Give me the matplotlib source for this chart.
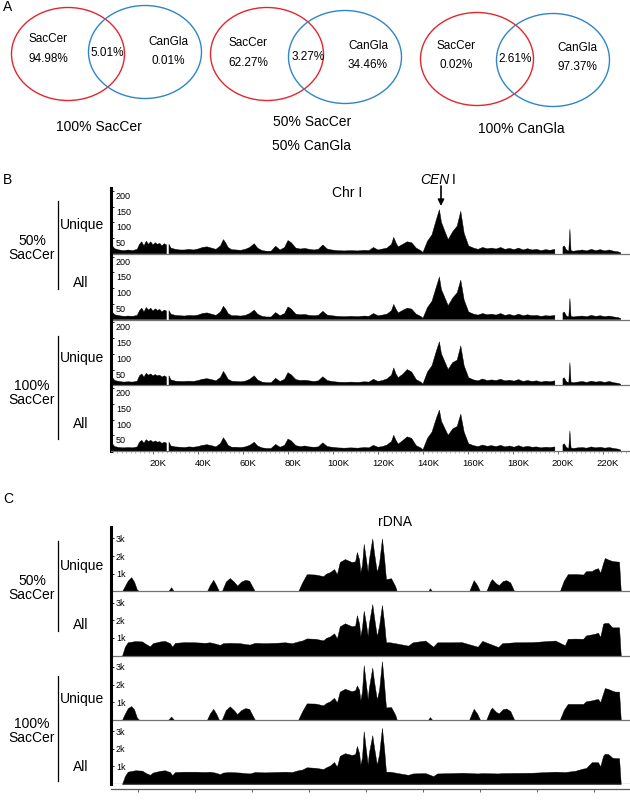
import numpy as np
import matplotlib
matplotlib.use('Agg')
import matplotlib.pyplot as plt
from matplotlib.patches import Ellipse
from matplotlib.transforms import ScaledTranslation
from matplotlib.ticker import MultipleLocator

plt.rcParams['font.family'] = ['Liberation Sans', 'DejaVu Sans']

# ---------------- Panel A : Venn diagrams ----------------
venn_titles = ['100% SacCer', '50% SacCer\n50% CanGla', '100% CanGla']
sac_only = ['94.98%', '62.27%', '0.02%']
overlap = ['5.01%', '3.27%', '2.61%']
can_only = ['0.01%', '34.46%', '97.37%']

# ---------------- Panel B : Chr I coverage (kb) ----------------
chr_pos = [1.4, 3, 5, 7, 9, 11, 13, 14, 15, 16,
           17, 18, 19, 20, 21, 22, 23, 24, 25, 26,
           26.6, 27.1, 28, 30, 32, 34, 36, 38, 40, 42,
           44, 46, 48, 50, 51.3, 52.3, 53.4, 55, 57, 59,
           61, 63, 65, 66.5, 68.5, 70.5, 72.5, 74.5, 76.5, 78.5,
           80, 81.5, 83.5, 85.5, 87.5, 89.5, 91.5, 93.5, 95.5, 97.5,
           99.5, 102, 105, 108, 111, 114, 116, 118, 120, 122,
           124, 126, 127, 128, 129, 131, 133, 135, 137, 139,
           140, 142, 144, 146, 147.3, 148.2, 149.7, 151.2, 153.2, 155.2,
           156.8, 158.3, 160.3, 162.5, 164.5, 166.5, 168.5, 170.5, 172.5, 174.5,
           176.5, 178.5, 180.5, 182.5, 184.5, 186.5, 188.5, 190.5, 192.5, 194.5,
           196.5, 198.6, 200.2, 202.2, 202.8, 203.8, 204.8, 205.3, 205.8, 206.8,
           208.8, 210.8, 212.8, 214.8, 216.8, 218.8, 220.8, 222.8, 224.8, 226.8,
           227.9]
nan = float('nan')
b_unique_50 = [30, 16, 12, 10, 12, 10, 14, 30, 38, 25,
               40, 30, 38, 28, 35, 30, 33, 25, 32, 28,
               nan, 30, 18, 14, 12, 12, 14, 12, 15, 20,
               22, 18, 14, 25, 45, 35, 20, 13, 12, 11,
               14, 20, 32, 18, 10, 8, 8, 24, 12, 20,
               42, 35, 18, 15, 17, 14, 12, 14, 28, 15,
               12, 10, 9, 10, 9, 11, 10, 20, 12, 15,
               18, 30, 52, 35, 22, 30, 38, 35, 18, 10,
               4, 40, 60, 110, 140, 100, 72, 45, 70, 88,
               135, 65, 25, 18, 14, 20, 16, 18, 15, 20,
               14, 17, 13, 18, 12, 16, 12, 14, 10, 13,
               11, 14, nan, 22, 25, 12, 8, 78, 10, 8,
               10, 12, 9, 14, 10, 13, 9, 12, 8, 6,
               3]
b_all_50 = [28, 15, 12, 10, 11, 10, 13, 28, 36, 24,
            38, 30, 36, 27, 34, 29, 32, 24, 30, 27,
            nan, 28, 17, 13, 12, 11, 13, 12, 14, 19,
            21, 17, 13, 24, 42, 33, 19, 12, 12, 11,
            13, 19, 30, 17, 10, 8, 8, 22, 12, 19,
            40, 33, 17, 15, 16, 13, 12, 13, 26, 14,
            12, 10, 9, 10, 9, 11, 10, 19, 12, 14,
            17, 28, 48, 33, 21, 29, 36, 33, 17, 10,
            4, 38, 58, 105, 135, 95, 70, 44, 68, 85,
            125, 62, 24, 17, 14, 19, 15, 17, 14, 19,
            13, 16, 12, 17, 12, 15, 12, 13, 10, 12,
            11, 13, nan, 21, 24, 11, 8, 67, 10, 8,
            10, 11, 9, 13, 10, 12, 9, 11, 8, 6,
            3]
b_unique_100 = [30, 15, 12, 10, 11, 10, 13, 30, 36, 26,
                38, 32, 36, 30, 34, 30, 32, 26, 30, 26,
                nan, 30, 17, 13, 12, 12, 13, 12, 15, 19,
                21, 18, 14, 25, 44, 33, 19, 13, 12, 11,
                13, 19, 30, 17, 10, 8, 8, 22, 12, 19,
                40, 33, 18, 15, 16, 14, 12, 14, 27, 15,
                12, 10, 9, 10, 9, 11, 10, 19, 12, 15,
                20, 32, 55, 36, 24, 35, 50, 42, 18, 10,
                4, 42, 62, 110, 138, 100, 75, 50, 72, 80,
                125, 62, 24, 17, 14, 20, 15, 17, 15, 19,
                14, 16, 13, 18, 12, 15, 12, 14, 10, 13,
                11, 14, nan, 21, 24, 11, 8, 72, 10, 8,
                10, 12, 9, 13, 10, 12, 9, 12, 8, 6,
                3]
b_all_100 = [28, 14, 11, 10, 11, 10, 13, 28, 34, 25,
             36, 30, 34, 28, 32, 28, 30, 24, 28, 25,
             nan, 28, 16, 13, 12, 11, 13, 12, 14, 18,
             20, 17, 13, 24, 42, 32, 18, 12, 12, 11,
             13, 18, 28, 16, 10, 8, 8, 21, 12, 18,
             38, 32, 17, 14, 16, 13, 12, 13, 26, 14,
             12, 10, 9, 10, 9, 11, 10, 18, 12, 14,
             19, 30, 50, 34, 22, 33, 45, 40, 17, 10,
             4, 40, 60, 105, 130, 95, 72, 50, 70, 78,
             117, 60, 23, 17, 14, 19, 15, 17, 14, 18,
             13, 16, 12, 17, 12, 15, 12, 13, 10, 12,
             11, 13, nan, 20, 23, 11, 8, 64, 10, 8,
             10, 11, 9, 13, 10, 12, 9, 11, 8, 6,
             3]
chr_ticks = [20, 40, 60, 80, 100, 120, 140, 160, 180, 200, 220]
chr_tick_labels = ['20K', '40K', '60K', '80K', '100K', '120K', '140K',
                   '160K', '180K', '200K', '220K']
b_yticks = [50, 100, 150, 200]
b_ytick_labels = ['50', '100', '150', '200']

# ---------------- Panel C : rDNA coverage (kb) ----------------
c_pos_unique = [0.72, 0.77, 0.82, 0.88, 0.93, 0.98, 1.02, 1.53, 1.58, 1.63,
                2.21, 2.26, 2.32, 2.37, 2.42, 2.47, 2.54, 2.61, 2.68, 2.74,
                2.81, 2.88, 2.95, 3.00, 3.05, 3.81, 3.88, 3.96, 4.11, 4.25,
                4.30, 4.37, 4.44, 4.49, 4.54, 4.63, 4.75, 4.81, 4.84, 4.88,
                4.90, 4.93, 4.96, 5.00, 5.03, 5.05, 5.11, 5.14, 5.19, 5.23,
                5.28, 5.32, 5.35, 5.44, 5.51, 5.54, 6.09, 6.12, 6.16, 6.81,
                6.86, 6.89, 6.95, 7.00, 7.11, 7.18, 7.21, 7.28, 7.33, 7.40,
                7.46, 7.53, 7.60, 8.40, 8.47, 8.54, 8.67, 8.81, 8.86, 8.96,
                9.02, 9.07, 9.11, 9.16, 9.19, 9.25, 9.32, 9.37, 9.44, 9.47]
c_unique_50 = [0, 300, 600, 800, 550, 100, 0, 0, 230, 0,
               0, 350, 650, 350, 0, 0, 550, 750, 550, 320,
               550, 650, 600, 300, 0, 0, 500, 970, 950, 860,
               1000, 1090, 1260, 970, 1660, 1830, 1660, 1700, 2230, 1800,
               1090, 1500, 2690, 1800, 1090, 1800, 3000, 2200, 1100, 1600,
               3000, 1800, 690, 740, 300, 0, 0, 170, 0, 0,
               400, 630, 350, 0, 0, 550, 690, 450, 350, 580,
               630, 500, 0, 0, 600, 970, 980, 950, 1140, 1150,
               1260, 1310, 1050, 1600, 1890, 1800, 1720, 1700, 1680, 0]
c_unique_100 = [0, 350, 650, 780, 600, 120, 0, 0, 180, 0,
                0, 350, 620, 350, 0, 0, 550, 760, 550, 320,
                550, 660, 620, 300, 0, 0, 480, 930, 920, 820,
                950, 1050, 1250, 980, 1600, 1760, 1620, 1680, 1950, 1700,
                1100, 1600, 3100, 2000, 1150, 1800, 2960, 2200, 1150, 1700,
                3330, 1900, 700, 720, 300, 0, 0, 150, 0, 0,
                400, 620, 350, 0, 0, 550, 690, 450, 360, 600,
                640, 500, 0, 0, 550, 900, 900, 900, 1050, 1100,
                1150, 1180, 1000, 1500, 1800, 1750, 1650, 1600, 1600, 0]
c_pos_all = [0.72, 0.77, 0.82, 0.95, 1.07, 1.14, 1.21, 1.26, 1.39, 1.47,
             1.56, 1.60, 1.65, 1.82, 2.00, 2.18, 2.26, 2.35, 2.44, 2.49,
             2.61, 2.79, 2.88, 2.96, 3.05, 3.23, 3.40, 3.58, 3.70, 3.81,
             3.88, 3.96, 4.11, 4.25, 4.30, 4.37, 4.44, 4.49, 4.54, 4.63,
             4.75, 4.81, 4.84, 4.88, 4.90, 4.93, 4.96, 5.00, 5.03, 5.05,
             5.11, 5.14, 5.19, 5.23, 5.28, 5.32, 5.35, 5.42, 5.56, 5.74,
             5.82, 6.04, 6.18, 6.25, 6.51, 6.68, 6.96, 7.04, 7.32, 7.39,
             7.61, 7.91, 8.32, 8.49, 8.54, 8.67, 8.81, 8.86, 8.96, 9.02,
             9.07, 9.11, 9.16, 9.19, 9.25, 9.32, 9.37, 9.44, 9.47]
c_all_50 = [0, 500, 750, 820, 800, 650, 520, 700, 800, 830,
            700, 500, 720, 760, 750, 720, 750, 680, 600, 700,
            720, 700, 650, 620, 720, 700, 720, 750, 700, 800,
            850, 970, 950, 860, 1000, 1090, 1260, 970, 1660, 1830,
            1660, 1700, 2290, 1800, 1090, 1600, 2540, 1800, 1090, 1800,
            2920, 2200, 1100, 1700, 2870, 1800, 750, 750, 670, 560,
            750, 850, 500, 750, 750, 760, 500, 830, 480, 700,
            750, 760, 850, 580, 950, 960, 950, 1140, 1200, 1240,
            1300, 1050, 1800, 1850, 1850, 1600, 1600, 1600, 0]
c_all_100 = [0, 450, 700, 780, 760, 620, 520, 650, 750, 780,
             680, 500, 680, 700, 700, 680, 700, 650, 560, 650,
             680, 650, 620, 600, 680, 660, 680, 700, 680, 780,
             820, 950, 920, 850, 950, 1050, 1250, 980, 1600, 1750,
             1650, 1700, 2160, 1750, 1100, 1500, 3000, 1900, 1100, 1750,
             2770, 2100, 1100, 1700, 3190, 1900, 700, 700, 620, 520,
             600, 620, 450, 600, 620, 640, 600, 620, 600, 620,
             630, 640, 700, 680, 700, 750, 880, 900, 1240, 1240,
             1240, 1000, 1600, 1720, 1700, 1500, 1470, 1470, 0]
c_ticks = [1, 2, 3, 4, 5, 6, 7, 8, 9]
c_yticks = [1000, 2000, 3000]
c_ytick_labels = ['1k', '2k', '3k']

# ---------------- figure ----------------
W, H = 630, 804
fig = plt.figure(figsize=(W / 100, H / 100), dpi=100)


def rect(x0, y0, x1, y1):
    return [x0 / W, 1 - y1 / H, (x1 - x0) / W, (y1 - y0) / H]


ov = fig.add_axes([0, 0, 1, 1])
ov.set_xlim(0, W)
ov.set_ylim(H, 0)
ov.set_axis_off()

RED = '#e3262c'
BLUE = '#2f86c6'

# Venn layout (pixel space)
venn_red = [(68, 55), (267, 55), (477, 60)]
venn_blue = [(145, 53), (345, 58), (553, 61)]
ew, eh = 113, 93
sac_txt = [(48, 39, 59), (248, 43, 63), (456, 46, 65)]
ov_txt = [(107, 53), (308, 57), (515, 59)]
can_txt = [(168, 42, 61), (368, 46, 65), (577, 48, 67)]
title_xy = [(99, 127), (312, 134), (521, 129)]

for i in range(3):
    ov.add_patch(Ellipse(venn_red[i], ew, eh, fill=False, ec=RED, lw=1.0))
    ov.add_patch(Ellipse(venn_blue[i], ew, eh, fill=False, ec=BLUE, lw=1.0))
    x, y1, y2 = sac_txt[i]
    ov.text(x, y1, 'SacCer', ha='center', va='center', fontsize=8.5)
    ov.text(x, y2, sac_only[i], ha='center', va='center', fontsize=8.5)
    ov.text(ov_txt[i][0], ov_txt[i][1], overlap[i], ha='center', va='center', fontsize=8.5)
    x, y1, y2 = can_txt[i]
    ov.text(x, y1, 'CanGla', ha='center', va='center', fontsize=8.5)
    ov.text(x, y2, can_only[i], ha='center', va='center', fontsize=8.5)
    ov.text(title_xy[i][0], title_xy[i][1], venn_titles[i], ha='center',
            va='center', fontsize=10, linespacing=2.0)

# panel letters
ov.text(3, 7, 'A', fontsize=10, va='center')
ov.text(3, 180, 'B', fontsize=10, va='center')
ov.text(3, 499, 'C', fontsize=10, va='center')

# ---- Panel B tracks ----
b_top, b_bot = 189, 452
b_h = (b_bot - b_top) / 4
b_tracks = [b_unique_50, b_all_50, b_unique_100, b_all_100]
b_ymax = b_h * 3.18
for i, vals in enumerate(b_tracks):
    y0 = b_top + i * b_h
    ax = fig.add_axes(rect(111, y0, 630, y0 + b_h))
    ax.set_facecolor('none')
    ax.fill_between(chr_pos, vals, 0, color='black', lw=0.3, edgecolor='black')
    ax.set_xlim(1.33, 232)
    ax.set_ylim(0, b_ymax)
    for s in ['top', 'right']:
        ax.spines[s].set_visible(False)
    ax.spines['left'].set_linewidth(2.2)
    ax.spines['bottom'].set_color('0.45')
    ax.spines['bottom'].set_linewidth(0.9)
    ax.set_yticks(b_yticks)
    ax.set_yticklabels(b_ytick_labels, ha='left', va='top', fontsize=6.5)
    ax.tick_params(axis='y', direction='in', length=2.5, width=0.6, pad=-3.5)
    if i < 3:
        ax.set_xticks([])
    else:
        ax.set_xticks(chr_ticks)
        ax.set_xticklabels(chr_tick_labels, fontsize=6.8)
        ax.xaxis.set_minor_locator(MultipleLocator(2))
        ax.tick_params(axis='x', which='major', direction='out', length=2.5,
                       width=0.6, color='0.3', pad=2.5)
        ax.tick_params(axis='x', which='minor', direction='out', length=1.5,
                       width=0.4, color='0.5')
        off = ScaledTranslation(0.05, 0, fig.dpi_scale_trans)
        for t in ax.get_xticklabels():
            t.set_transform(t.get_transform() + off)

# ---- Panel C tracks ----
c_top, c_bot = 528, 785
c_h = (c_bot - c_top) / 4
c_tracks = [(c_pos_unique, c_unique_50), (c_pos_all, c_all_50),
            (c_pos_unique, c_unique_100), (c_pos_all, c_all_100)]
c_ymax = c_h * 1000 / 17.6
for i, (pos, vals) in enumerate(c_tracks):
    y0 = c_top + i * c_h
    ax = fig.add_axes(rect(111, y0, 630, y0 + c_h))
    ax.set_facecolor('none')
    ax.fill_between(pos, vals, 0, color='black', lw=0.3, edgecolor='black')
    ax.set_xlim(0.526, 9.632)
    ax.set_ylim(0, c_ymax)
    for s in ['top', 'right']:
        ax.spines[s].set_visible(False)
    ax.spines['left'].set_linewidth(2.2)
    ax.spines['bottom'].set_color('0.45')
    ax.spines['bottom'].set_linewidth(0.9)
    ax.set_yticks(c_yticks)
    ax.set_yticklabels(c_ytick_labels, ha='left', va='center', fontsize=6.5)
    ax.tick_params(axis='y', direction='in', length=2.5, width=0.6, pad=-3.5)
    if i < 3:
        ax.set_xticks([])
    else:
        ax.axhline(0, color='0.45', lw=0.9)
        ax.spines['bottom'].set_position(('outward', 3.6))
        ax.spines['bottom'].set_color('0.35')
        ax.set_xticks(c_ticks)
        ax.set_xticklabels([])
        ax.tick_params(axis='x', direction='out', length=2.5, width=0.6, color='0.3')

# ---- side labels ----
side = [
    ('50%\nSacCer', 248, 202, 290, 'Unique', 225, 283),
    ('100%\nSacCer', 393, 337, 440, 'Unique', 358, 424),
    ('50%\nSacCer', 588, 542, 632, 'Unique', 566, 625),
    ('100%\nSacCer', 731, 677, 782, 'Unique', 699, 767),
]
for lab, ly, l0, l1, u, uy, ay in side:
    ov.text(32, ly, lab, ha='center', va='center', fontsize=10, linespacing=1.05)
    ov.plot([58, 58], [l0, l1], color='black', lw=0.9)
    ov.text(82, uy, u, ha='center', va='center', fontsize=10)
    ov.text(81, ay, 'All', ha='center', va='center', fontsize=10)

# titles
ov.text(347, 193, 'Chr I', ha='center', va='center', fontsize=10)
ov.text(449, 180, 'CEN', ha='right', va='center', fontsize=10, style='italic')
ov.text(452, 180, 'I', ha='left', va='center', fontsize=10)
ov.annotate('', xy=(441, 207), xytext=(441, 187),
            arrowprops=dict(arrowstyle='-|>', color='black', lw=1.2,
                            mutation_scale=9, shrinkA=0, shrinkB=0))
ov.text(395, 522, 'rDNA', ha='center', va='center', fontsize=10)

fig.savefig('out.png', dpi=100)
